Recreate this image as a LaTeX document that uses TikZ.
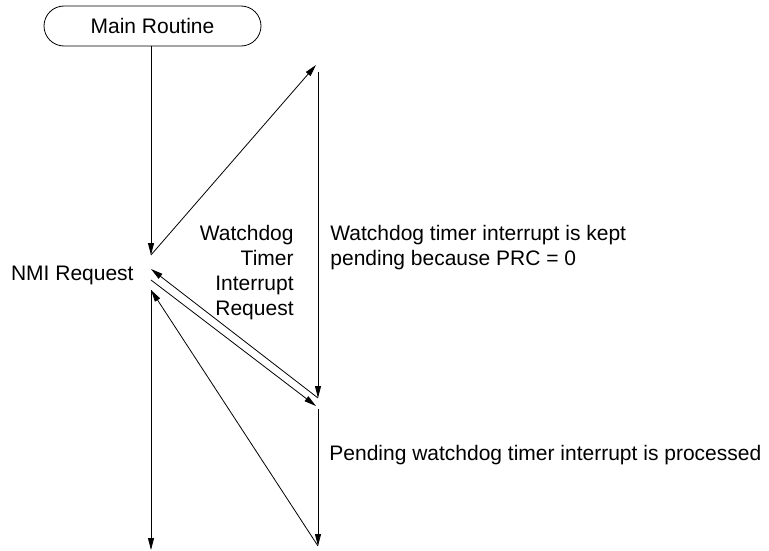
\documentclass[tikz,border=0pt]{standalone}
\usepackage{fontspec}
\setmainfont{Liberation Sans}
\usetikzlibrary{arrows.meta}
\begin{document}
\begin{tikzpicture}[x=1pt,y=-1pt,
  line width=0.8pt,
  arr/.style={-{Triangle[length=12pt,width=6pt]}},
  lbl/.style={font=\fontsize{21}{25}\selectfont, inner sep=0pt},
  term/.style={draw, rounded corners=20pt, minimum width=217pt, minimum height=40pt, inner sep=0pt, font=\fontsize{21}{25}\selectfont}]
\useasboundingbox (0,0) rectangle (769,551);
% terminal
\node[term] (main) at (152.5,26) {Main Routine};
% coordinates
\coordinate (a1) at (151,255);
\coordinate (b1) at (316,65);
\coordinate (b2) at (318,72);
\coordinate (b3) at (318,398);
\coordinate (a2) at (151,269);
\coordinate (a3) at (151,280);
\coordinate (b4) at (316,406);
\coordinate (b5) at (318,409);
\coordinate (b6) at (318,546);
\coordinate (a4) at (151,290);
\coordinate (a5) at (151,550);
% connectors
\draw[arr] (main.south -| a1) -- (a1);
\draw[arr] (a1) -- (b1);
\draw[arr] (b2) -- (b3);
\draw[arr] (b3) -- (a2);
\draw[arr] (a3) -- (b4);
\draw[arr] (b5) -- (b6);
\draw[arr] (b6) -- (a4);
\draw[arr] (a4) -- (a5);
% labels
\node[lbl, anchor=base east] (nmi) at (134,280) {NMI Request};
\node[lbl, anchor=base east, align=right] (wdt) at (294,315) {Watchdog\\Timer\\Interrupt\\Request};
\node[lbl, anchor=base west, align=left] (kept) at (330,265) {Watchdog timer interrupt is kept\\pending because PRC = 0};
\node[lbl, anchor=base west] (proc) at (329,460) {Pending watchdog timer interrupt is processed};
\end{tikzpicture}
\end{document}
